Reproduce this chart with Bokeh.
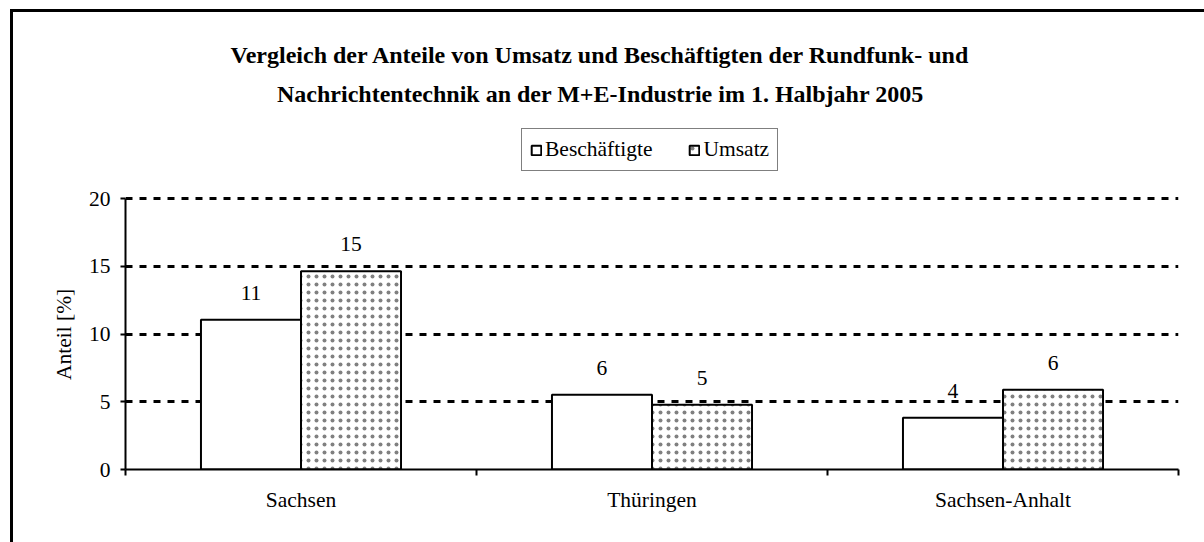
from bokeh.plotting import figure
from bokeh.models import (Range1d, FixedTicker, Legend, LegendItem, Label,
                          ColumnDataSource, InlineStyleSheet)
from bokeh.embed import file_html
from bokeh.resources import INLINE
from bokeh.core.properties import value
import numpy as np

# ---------------- data ----------------
categories = ["Sachsen", "Thüringen", "Sachsen-Anhalt"]
beschaeftigte = [11.05, 5.51, 3.81]
umsatz = [14.63, 4.77, 5.88]
series_names = ["Beschäftigte", "Umsatz"]
yticks = [0, 5, 10, 15, 20]
grid_ticks = [5, 10, 15, 20]
title_lines = [
    "Vergleich der Anteile von Umsatz und Beschäftigten der Rundfunk- und",
    "Nachrichtentechnik an der M+E-Industrie im 1. Halbjahr 2005",
]
y_label = "Anteil [%]"

# ---------------- layout ----------------
FONT = "Liberation Serif"
FS = "21.5px"
W, H = 1204, 542
FL, FR, FB = 125, 1178, 469      # frame left/right/bottom (px)
Y20 = 198                         # pixel row of value 20
YMAX = 20.0 * FB / (FB - Y20)     # frame reaches the top of the canvas

p = figure(width=W, height=H, output_backend="svg", toolbar_location=None,
           title=None,
           x_range=Range1d(0, len(categories)), y_range=Range1d(0, YMAX),
           min_border_left=FL, min_border_right=W - FR,
           min_border_top=0, min_border_bottom=H - FB)
p.outline_line_color = None
p.background_fill_color = "white"
p.border_fill_color = "white"

# outer chart border (left + top visible, rest beyond the window)
p.stylesheets = [InlineStyleSheet(css="""
:host { position: relative; overflow: hidden; }
:host::after { content: ""; position: absolute; left: 10px; top: 9px;
  width: 3000px; height: 3000px; border-left: 3px solid black;
  border-top: 3px solid black; pointer-events: none; z-index: 100; }
""")]

centers = np.arange(len(categories)) + 0.5
bw = 0.285
src = ColumnDataSource(dict(
    x1=centers - bw / 2, x2=centers + bw / 2,
    b=beschaeftigte, u=umsatz,
    bl=[f"{v:.0f}" for v in beschaeftigte],
    ul=[f"{v:.0f}" for v in umsatz],
))

# grid
p.xgrid.visible = False
p.ygrid.ticker = FixedTicker(ticks=grid_ticks)
p.ygrid.grid_line_color = "black"
p.ygrid.grid_line_width = 3
p.ygrid.grid_line_dash = "7 7"

r1 = p.vbar(x="x1", top="b", bottom=0, width=bw, source=src,
            fill_color="white", line_color="black", line_width=2)
r2 = p.vbar(x="x2", top="u", bottom=0, width=bw, source=src,
            fill_color="white", line_color="black", line_width=2,
            hatch_pattern="dot", hatch_scale=8, hatch_color="#808080",
            hatch_weight=1)

for xcol, tcol, ycol in (("x1", "bl", "b"), ("x2", "ul", "u")):
    p.text(x=xcol, y=ycol, text=tcol, source=src, text_align="center",
           text_baseline="alphabetic", y_offset=-27,
           text_font=value(FONT), text_font_size=FS, text_color="black")

# y axis (label padded so it is centred on the 0..20 part of the axis)
ya = p.yaxis[0]
ya.ticker = FixedTicker(ticks=yticks)
ya.bounds = (0, 20)
ya.axis_line_width = 2
ya.axis_line_color = "black"
ya.major_tick_line_width = 2
ya.major_tick_out = 5
ya.major_tick_in = 0
ya.minor_tick_out = 0
ya.minor_tick_in = 0
ya.major_label_standoff = 10
ya.major_label_text_font = FONT
ya.major_label_text_font_size = FS
ya.major_label_text_color = "black"
ya.axis_label = y_label + "\u00a0" * 37
ya.axis_label_text_font = FONT
ya.axis_label_text_font_size = FS
ya.axis_label_text_font_style = "normal"
ya.axis_label_text_color = "black"
ya.axis_label_standoff = 10

# x axis
xa = p.xaxis[0]
xa.ticker = FixedTicker(ticks=list(map(float, centers)),
                        minor_ticks=list(range(len(categories) + 1)))
xa.major_label_overrides = {float(c): n for c, n in zip(centers, categories)}
xa.axis_line_width = 2
xa.axis_line_color = "black"
xa.major_tick_out = 0
xa.major_tick_in = 0
xa.major_tick_line_color = None
xa.minor_tick_out = 6
xa.minor_tick_in = 0
xa.minor_tick_line_width = 2
xa.minor_tick_line_color = "black"
xa.major_label_standoff = 12
xa.major_label_text_font = FONT
xa.major_label_text_font_size = FS
xa.major_label_text_color = "black"

# legend (inside the tall frame, above the bars)
legend = Legend(
    items=[LegendItem(label=series_names[0], renderers=[r1]),
           LegendItem(label=series_names[1], renderers=[r2])],
    orientation="horizontal", location=(521 - FL, FB - 171), margin=0,
    padding=8, spacing=36, label_standoff=3, glyph_width=12, glyph_height=12,
    border_line_color="black", border_line_width=1,
    background_fill_color="white", background_fill_alpha=1,
    label_text_font=FONT, label_text_font_size=FS, label_text_color="black",
)
p.add_layout(legend, "center")

# title (two lines)
for txt, base in zip(title_lines, (54, 93)):
    p.add_layout(Label(x=600 - FL, y=FB - base, x_units="screen", y_units="screen",
                       text=txt, text_align="center", text_baseline="alphabetic",
                       text_font=FONT, text_font_style="bold", text_font_size="24px",
                       text_color="black"))

open("out.html", "w").write(file_html(p, INLINE))
